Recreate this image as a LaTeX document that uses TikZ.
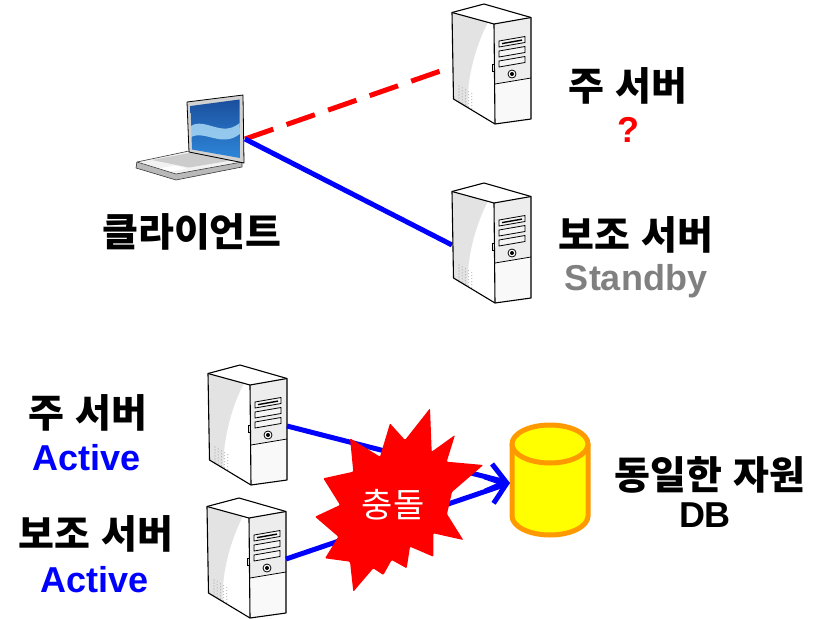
\documentclass[tikz,border=0pt]{standalone}
\usepackage{fontspec}
\setmainfont{Liberation Sans}
\newfontfamily\kr{Noto Sans CJK KR}
\usetikzlibrary{arrows.meta}

\definecolor{dbfill}{HTML}{FFFF00}
\definecolor{dbline}{HTML}{FF9900}
\definecolor{linkblue}{HTML}{0000FF}
\definecolor{alarm}{HTML}{FF0000}
\definecolor{idle}{HTML}{808080}
\definecolor{scrtop}{HTML}{1B4F9E}
\definecolor{scrbot}{HTML}{2E86D8}
\definecolor{scrwave}{HTML}{A8D8F5}

\tikzset{
  label kr/.style={inner sep=0pt, font=\kr\bfseries\fontsize{39}{42}\selectfont},
  label en/.style={inner sep=0pt, font=\bfseries\fontsize{36}{40}\selectfont},
  link/.style={line width=5pt},
  outline/.style={draw=black, line width=1.1pt, line join=round},
  server/.pic={
    % side panel with a soft grey sweep
    \fill[white] (0,8.5) -- (42,20) -- (43,120) -- (1.5,95) -- cycle;
    \fill[gray!22] (0,8.5) -- (36,18) .. controls (22,45) and (14,80) .. (16,104) -- (1.5,95) -- cycle;
    % vent grid
    \foreach \i in {0,...,4}
      \foreach \j in {0,...,5}
        \fill[gray!75] ({7+3.2*\i},{82+3*\j+0.6*3.2*\i}) circle (0.55);
    % top face
    \fill[white] (0,8.5) -- (32,0) -- (79,13.5) -- (42,20) -- cycle;
    % front face
    \fill[gray!14] (42,20) -- (79,13.5) -- (79,115) -- (43,120) -- cycle;
    \fill[gray!5] (43,80) -- (79,74) -- (79,115) -- (43,120) -- cycle;
    \draw[line width=0.8pt] (43,80) -- (79,74);
    % drive bays
    \foreach \y in {37,47,57}
      \draw[line width=0.8pt, fill=gray!8] (47,\y) -- (73,{\y-4.5}) -- (73,{\y+1.5}) -- (47,{\y+6}) -- cycle;
    \draw[line width=1.4pt] (50,39.6) -- (70,36.1);
    % power button
    \draw[line width=0.8pt, fill=white] (60,70) circle (4);
    \fill[black] (60,70) circle (2);
    % side latch
    \draw[line width=0.7pt, fill=white] (40,60) rectangle (42.5,67);
    % outlines
    \draw[outline] (0,8.5) -- (32,0) -- (79,13.5) -- (79,115) -- (43,120) -- (1.5,95) -- cycle;
    \draw[outline] (0,8.5) -- (42,20) -- (79,13.5);
    \draw[outline] (42,20) -- (43,120);
    % connection points
    \coordinate (-side) at (1,63);
    \coordinate (-front) at (79,61);
  }
}

\begin{document}
\begin{tikzpicture}[x=1pt, y=-1pt]
\useasboundingbox (0,0) rectangle (823,619);

% ---------- laptop ----------
\fill[gray!55] (136,162) -- (176,174) -- (242,162) -- (242,167) -- (176,180) -- (136,168) -- cycle;
\fill[gray!10] (137,162) -- (189,151) -- (242,162) -- (176,174) -- cycle;
\fill[gray!40] (152,160) -- (192,152.5) -- (231,160.5) -- (189,167.5) -- cycle;
\fill[white] (158,168.5) -- (175,165.5) -- (186,168.5) -- (169,172) -- cycle;
\draw[gray!45!black, line width=0.6pt, line join=round]
  (137,162) -- (189,151) -- (242,162) -- (242,167) -- (176,180) -- (136,168) -- cycle;
\draw[gray!45!black, line width=0.6pt] (137,162) -- (176,174) -- (242,162);
\fill[gray!35] (187,102) -- (243,95) -- (244,163) -- (189,152) -- cycle;
\draw[black, line width=0.8pt, line join=round] (187,102) -- (243,95) -- (244,163) -- (189,152) -- cycle;
\shade[top color=scrtop, bottom color=scrbot] (190.5,106) -- (239.5,99.5) -- (240,158) -- (192,149.5) -- cycle;
\fill[scrwave, opacity=0.85] (190.8,126) .. controls (205,117) and (222,138) .. (239.7,123)
  -- (239.8,134) .. controls (222,148) and (205,130) .. (191.2,137) -- cycle;
\coordinate (laptop) at (245,139);

% ---------- links from the client ----------
\coordinate (sa-in) at (452,67);
\coordinate (sb-in) at (452,245);
\draw[link, alarm, dash pattern=on 30pt off 14pt] (laptop) -- (sa-in);
\draw[link, linkblue] (laptop) -- (sb-in);

% ---------- servers ----------
\pic (sa) at (452,4) {server};
\pic (sb) at (452,183) {server};
\pic (sc) at (208,365) {server};
\pic (sd) at (207,498) {server};

% ---------- shared resource ----------
\fill[dbfill] (512,444) -- (512,516) arc[start angle=180, end angle=360, x radius=38, y radius=-19] -- (588,444) -- cycle;
\draw[dbline, line width=5pt] (512,444) -- (512,516) arc[start angle=180, end angle=360, x radius=38, y radius=-19] -- (588,444);
\draw[dbline, line width=5pt, fill=dbfill] (550,444) ellipse[x radius=38, y radius=19];
\coordinate (dbin) at (510,483);

% ---------- concurrent writes ----------
\draw[link, linkblue, -{Straight Barb[length=18pt, width=28pt]}] (sc-front) -- (dbin);
\draw[link, linkblue, -{Straight Barb[length=18pt, width=28pt]}] (sd-front) -- (dbin);

% ---------- collision burst ----------
\fill[alarm, rounded corners=1pt]
  (350,438.3) -- (380,456.7) -- (390,423.3) -- (405,440) -- (430,408.3) -- (431.7,451.7)
  -- (455,435) -- (446.7,461.7) -- (483.3,465) -- (452,492) -- (447,514) -- (463.3,540)
  -- (433.3,533.3) -- (433.3,556.7) -- (410,546.7) -- (406.7,568.3) -- (391.7,560)
  -- (383.3,575) -- (373.3,568.3) -- (353.3,591.7) -- (350,561.7) -- (325,558.3)
  -- (338.3,536.7) -- (315,516.7) -- (340,505) -- (323.3,478.3) -- (353.3,471.7) -- cycle;
\node[inner sep=0pt, font=\kr\fontsize{34}{36}\selectfont, text=white] (clash) at (393,505) {충돌};

% ---------- labels ----------
\node[label kr] (client) at (192,232) {클라이언트};
\node[label kr] (ta) at (628,86) {주\hspace{11pt}서버};
\node[label en, text=alarm] (taq) at (628,130) {?};
\node[label kr] (tb) at (636,235) {보조\hspace{11pt}서버};
\node[label en, text=idle] (tbs) at (636,281) {Standby};
\node[label kr] (ba) at (88,413) {주\hspace{11pt}서버};
\node[label en, text=linkblue] (baa) at (87,458) {Active};
\node[label kr] (bb) at (96,534) {보조\hspace{11pt}서버};
\node[label en, text=linkblue] (bbb) at (95,580) {Active};
\node[label kr] (dbl) at (710,475) {동일한\hspace{11pt}자원};
\node[label en] (dbn) at (705,515) {DB};
\end{tikzpicture}
\end{document}
